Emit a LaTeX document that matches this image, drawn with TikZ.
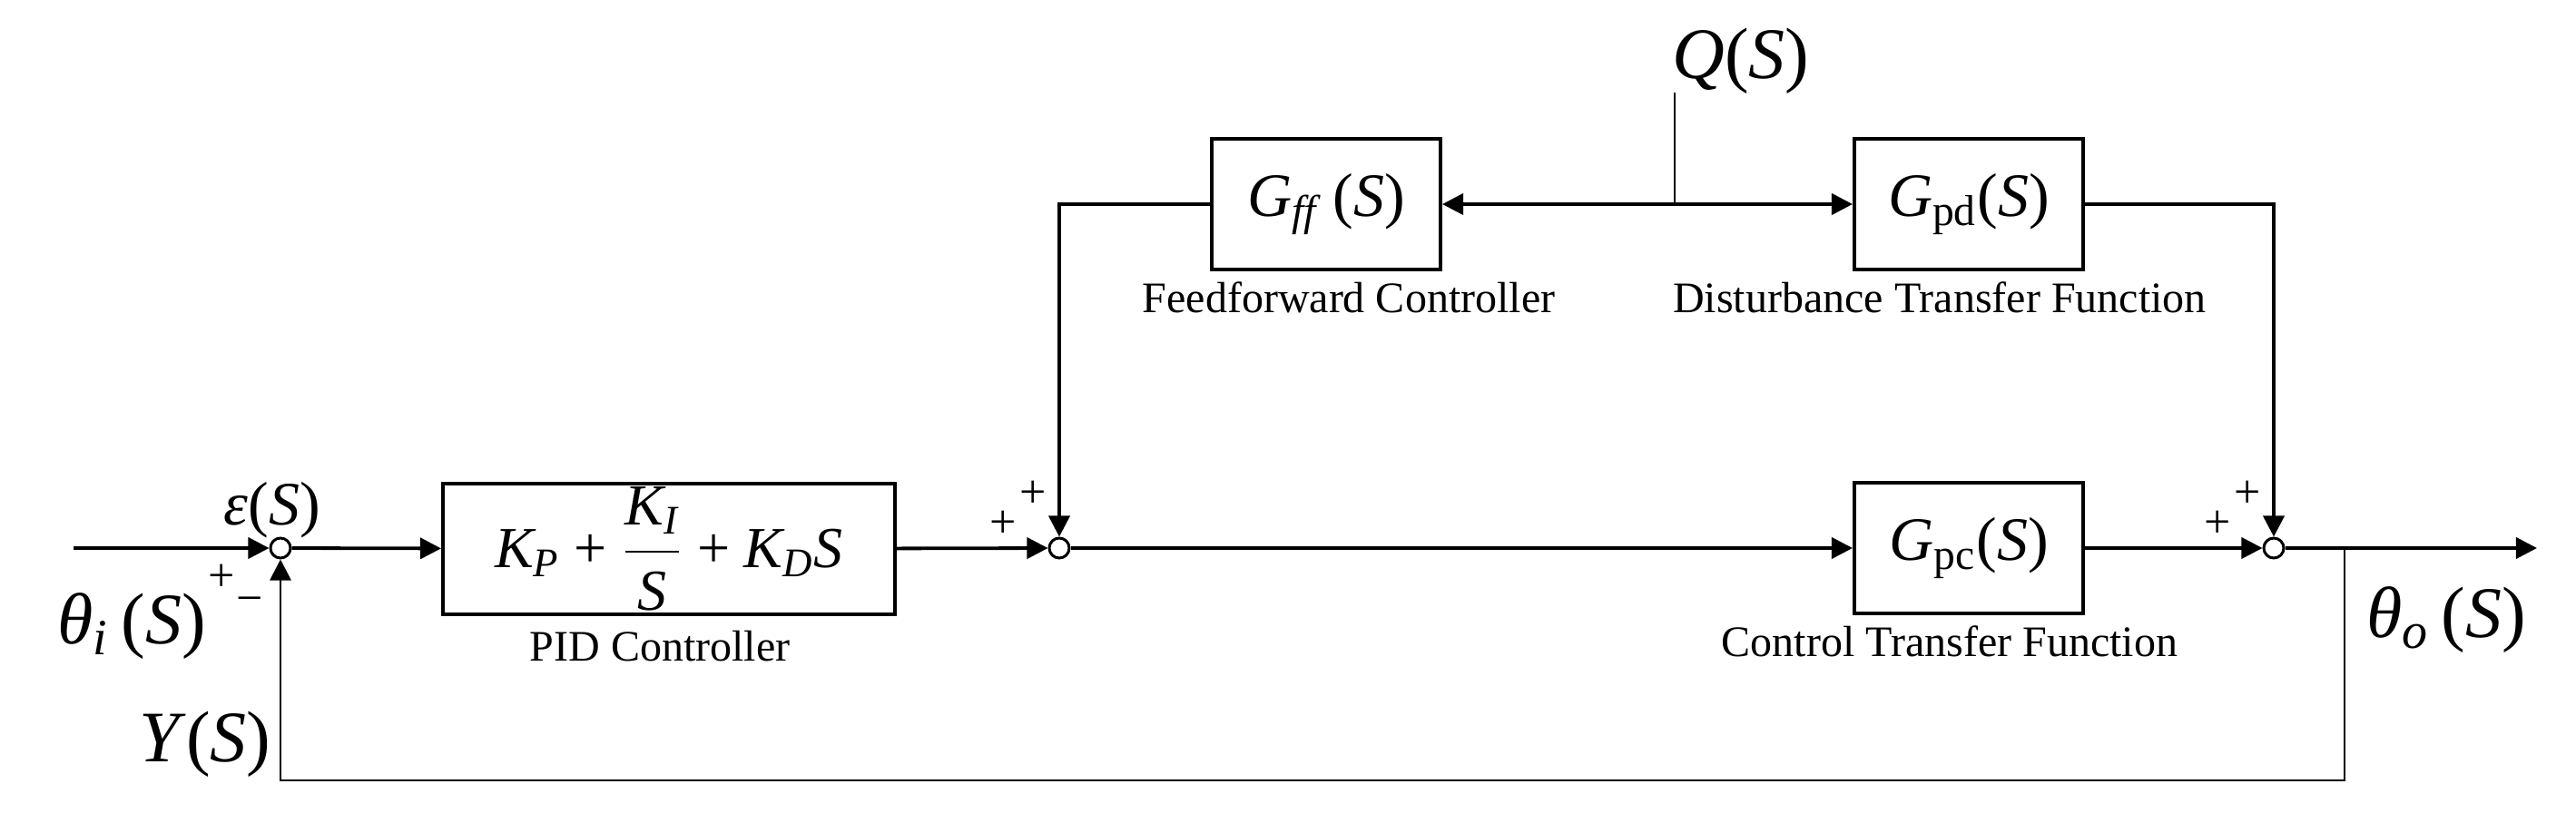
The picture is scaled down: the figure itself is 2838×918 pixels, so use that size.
\documentclass[tikz,border=0pt]{standalone}
\usepackage{fontspec}
\setmainfont{Liberation Serif}
\usepackage{amsmath}
\usetikzlibrary{arrows.meta,positioning}

\newcommand{\pl}{\mathbin{\text{+}}}

\begin{document}
\begin{tikzpicture}[x=0.25pt, y=-0.25pt,
    block/.style={rectangle, draw, line width=1pt, minimum height=36pt, inner sep=0pt, font=\fontsize{17}{20}\selectfont},
    sumj/.style={circle, draw, fill=white, line width=0.75pt, inner sep=0pt, minimum size=5.5pt},
    caption/.style={font=\fontsize{12}{14}\selectfont},
    sigtext/.style={font=\fontsize{20}{24}\selectfont},
    sgn/.style={font=\fontsize{13}{14}\selectfont, inner sep=0pt},
    wire/.style={line width=0.95pt},
    thinwire/.style={line width=0.7pt},
    >={Triangle[length=5.8pt, width=5.8pt]}
]
\useasboundingbox (0,0) rectangle (2838,918);

% main path
\coordinate (in) at (81,604);
\node[sumj] (s1) at (309,604) {};
\node[block, minimum width=124.5pt, font=\fontsize{16}{20}\selectfont] (pid) at (737,605)
    {$\textit{K}_{\textit{P}}\pl\dfrac{\textit{K}_{\textit{I}}}{\textit{S}}\pl\textit{K}_{\textit{D}}\textit{S}$};
\node[caption] (pidlbl) at (727,712) {PID Controller};
\node[sumj] (s2) at (1167,604) {};
\node[block, minimum width=63pt] (gpc) at (2169,604) {\textit{G}\textsubscript{pc}(\textit{S})};
\node[caption] (gpclbl) at (2148,707) {Control Transfer Function};
\node[sumj] (s3) at (2505,604) {};
\coordinate (branch) at (2583,604);
\coordinate (out) at (2795,604);
\coordinate (fb) at (2583,860);

% disturbance path
\node[block, minimum width=63pt] (gff) at (1461,225) {\textit{G}\textsubscript{\textit{ff}}\,(\textit{S})};
\node[caption] (gfflbl) at (1486,328) {Feedforward Controller};
\node[block, minimum width=63pt] (gpd) at (2169,225) {\textit{G}\textsubscript{pd}(\textit{S})};
\node[caption] (gpdlbl) at (2137,328) {Disturbance Transfer Function};
\coordinate (qtop) at (1845,102);
\coordinate (qj) at (1845,225);

% signal names
\node[sigtext] (q) at (1918,67) {\textit{Q}(\textit{S})};
\node[font=\fontsize{17}{20}\selectfont] (eps) at (300,562) {\textit{ε}(\textit{S})};
\node[sigtext] (thi) at (145,690) {\textit{θ}\textsubscript{\textit{i}}\,(\textit{S})};
\node[sigtext] (tho) at (2695,683) {\textit{θ}\textsubscript{\textit{o}}\,(\textit{S})};
\node[sigtext] (ys) at (226,820) {\textit{Y}(\textit{S})};

% signs
\node[sgn] at (244,637) {+};
\node[sgn] at (275,667) {−};
\node[sgn] at (1105,578) {+};
\node[sgn] at (1138,545) {+};
\node[sgn] at (2443,578) {+};
\node[sgn] at (2476,545) {+};

% connectors
\draw[wire,->] (in) -- (s1);
\draw[wire,->] (s1) -- (pid);
\draw[wire,->] (pid) -- (s2);
\draw[wire,->] (s2) -- (gpc);
\draw[wire,->] (gpc) -- (s3);
\draw[wire,->] (s3) -- (out);
\draw[thinwire] (qtop) -- (qj);
\draw[wire,->] (qj) -- (gff);
\draw[wire,->] (qj) -- (gpd);
\draw[wire,->] (gff.west) -| (s2);
\draw[wire,->] (gpd.east) -| (s3);
\draw[thinwire,->] (branch) -- (fb) -| (s1);
\end{tikzpicture}
\end{document}
